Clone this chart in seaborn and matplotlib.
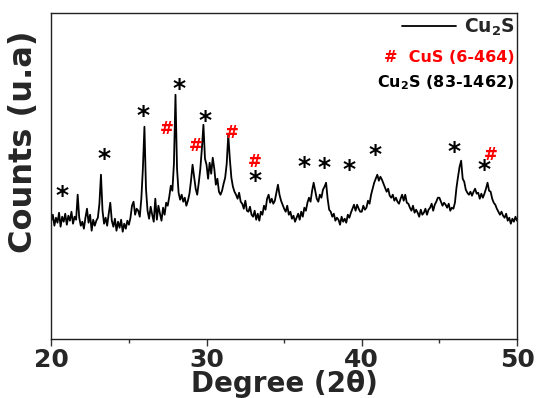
import matplotlib
matplotlib.use("Agg")
import matplotlib.pyplot as plt
from matplotlib.ticker import MultipleLocator
import seaborn as sb
import numpy as np

# XRD trace, one value every 0.1 degree (20.0 ... 50.0)
two_theta = np.round(np.arange(20.0, 50.05, 0.1), 1)
counts = [
    118, 124, 113, 121, 116, 126, 112, 122, 117, 125,   # 20
    114, 123, 118, 127, 115, 122, 119, 144, 121, 113,   # 21
    117, 110, 121, 130, 116, 124, 108, 119, 113, 118,   # 22
    121, 135, 164, 128, 115, 121, 113, 125, 136, 118,   # 23
    112, 120, 108, 117, 111, 119, 107, 115, 110, 118,   # 24
    114, 121, 133, 137, 124, 130, 128, 122, 140, 170,   # 25
    212, 150, 128, 120, 132, 124, 117, 140, 119, 133,   # 26
    125, 118, 131, 124, 136, 133, 142, 153, 148, 175,   # 27
    244, 170, 146, 139, 144, 137, 141, 133, 138, 145,   # 28
    158, 174, 162, 150, 144, 156, 170, 190, 214, 180,   # 29
    174, 160, 176, 165, 181, 170, 154, 160, 147, 144,   # 30
    148, 155, 161, 175, 204, 180, 161, 152, 147, 144,   # 31
    140, 146, 137, 135, 130, 138, 128, 127, 132, 124,   # 32
    122, 128, 119, 125, 118, 127, 124, 133, 129, 140,   # 33
    144, 136, 140, 135, 138, 146, 154, 144, 138, 134,   # 34
    130, 127, 133, 124, 127, 120, 123, 117, 121, 125,   # 35
    119, 127, 122, 131, 128, 136, 141, 137, 148, 156,   # 36
    148, 140, 137, 144, 141, 149, 152, 156, 140, 129,   # 37
    127, 122, 125, 118, 121, 119, 114, 122, 117, 120,   # 38
    116, 124, 121, 126, 130, 134, 128, 134, 130, 127,   # 39
    127, 133, 129, 131, 138, 135, 144, 150, 156, 160,   # 40
    164, 158, 162, 159, 155, 151, 147, 150, 143, 141,   # 41
    144, 138, 141, 137, 135, 140, 144, 138, 144, 136,   # 42
    135, 131, 128, 133, 126, 129, 126, 122, 129, 124,   # 43
    126, 130, 124, 129, 131, 135, 128, 134, 137, 141,   # 44
    141, 137, 133, 136, 134, 131, 135, 128, 131, 130,   # 45
    136, 151, 162, 172, 178, 160, 157, 149, 146, 144,   # 46
    147, 143, 147, 150, 145, 146, 140, 145, 141, 145,   # 47
    150, 156, 148, 147, 140, 136, 134, 130, 127, 124,   # 48
    127, 123, 121, 125, 118, 121, 115, 120, 117, 122,   # 49
    118,                                                # 50
]

# peak markers: * = Cu2S (83-1462), # = CuS (6-464)
star_x = [20.7, 23.4, 25.9, 28.2, 29.9, 33.1, 36.3, 37.55, 39.15, 40.85, 45.95, 47.9]
star_y = [143, 180, 223, 250, 218, 158, 172, 171, 169, 184, 187, 169]
hash_x = [27.45, 29.3, 31.65, 33.1, 48.3]
hash_y = [210, 193, 206, 177, 184]

sb.set_style("ticks")
plt.rcParams['font.family'] = ['DejaVu Sans']
plt.rcParams['font.weight'] = 'bold'
plt.rcParams['mathtext.fontset'] = 'dejavusans'

fig = plt.figure(figsize=(5.37, 3.98), dpi=100)
ax = fig.add_axes([0.0955, 0.149, 0.8673, 0.819])

sb.lineplot(x=two_theta, y=counts, color='black', linewidth=1.3,
            label=r'Cu$_\mathbf{2}$S', ax=ax)

for x, y in zip(star_x, star_y):
    ax.text(x, y, '*', color='black', fontsize=18, fontweight='bold',
            ha='center', va='center')
for x, y in zip(hash_x, hash_y):
    ax.text(x, y, '#', color='red', fontsize=12, fontweight='bold',
            ha='center', va='center')

ax.set_xlim(20, 50)
ax.set_ylim(0, 326)
ax.xaxis.set_major_locator(MultipleLocator(10))
ax.xaxis.set_minor_locator(MultipleLocator(5))
ax.set_yticks([])
ax.tick_params(axis='x', which='major', direction='out', length=5, width=1,
               labelsize=18, pad=2, color='#333333')
ax.tick_params(axis='x', which='minor', direction='out', length=3, width=1,
               color='#333333')
for lab in ax.get_xticklabels():
    lab.set_fontweight('bold')
for s in ax.spines.values():
    s.set_visible(True)
    s.set_linewidth(1.0)
    s.set_color('#222222')

ax.set_xlabel('Degree (2θ)', fontsize=20, fontweight='bold', labelpad=-2)
ax.set_ylabel('Counts (u.a)', fontsize=23, fontweight='bold')
ax.yaxis.set_label_coords(-0.026, 0.605)

leg = ax.legend(loc='center right', bbox_to_anchor=(0.997, 0.955),
                frameon=False, fontsize=13.5, handlelength=2.9,
                handletextpad=0.45, borderaxespad=0, borderpad=0)
for t in leg.get_texts():
    t.set_fontweight('bold')
ax.text(0.995, 0.864, '#  CuS (6-464)', color='red', fontsize=11.5,
        fontweight='bold', ha='right', va='center', transform=ax.transAxes)
ax.text(0.995, 0.785, r'Cu$_\mathbf{2}$S (83-1462)', color='black', fontsize=11.5,
        fontweight='bold', ha='right', va='center', transform=ax.transAxes)

plt.savefig('out.png', dpi=100)
plt.close()
